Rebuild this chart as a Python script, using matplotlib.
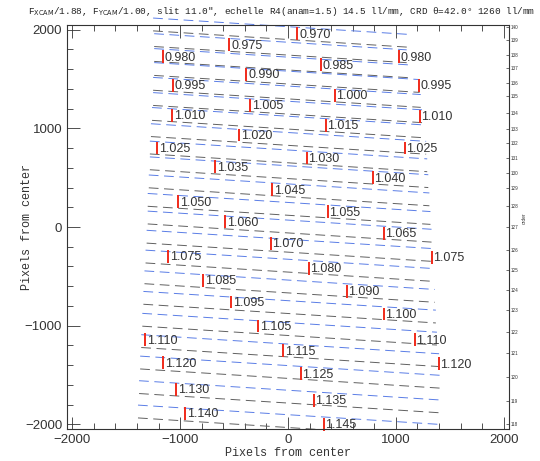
import matplotlib
matplotlib.use("Agg")
import matplotlib.pyplot as plt
from matplotlib.patches import Rectangle
from matplotlib.ticker import MultipleLocator

plt.rcParams['lines.scale_dashes'] = False
plt.rcParams['font.family'] = ['Liberation Sans', 'DejaVu Sans']
plt.rcParams['axes.unicode_minus'] = True

# ---------------- data ----------------
orders = [140, 139, 138, 137, 136, 135, 134, 133, 132, 131, 130,
          129, 128, 127, 126, 125, 124, 123, 122, 121, 120, 119]
# band centre (y, pixels) of each order at x = 0
order_y0 = [1966, 1808, 1657, 1515, 1364, 1210, 1058, 893, 716, 556, 372,
            184, 5, -190, -392, -603, -812, -1035, -1252, -1470, -1720, -1968]
# x extent of each order trace
order_xl = [-1250, -1240, -1240, -1240, -1250, -1250, -1260, -1270, -1280, -1280, -1290,
            -1300, -1300, -1310, -1320, -1330, -1340, -1350, -1360, -1370, -1380, -1390]
order_xr = [1130, 1100, 1150, 1220, 1230, 1260, 1270, 1280, 1290, 1300, 1310,
            1320, 1330, 1340, 1350, 1360, 1370, 1380, 1400, 1410, 1420, 1430]
trace_slope = -0.07          # dy/dx of the order traces
slit_half = 65               # half length of the slit image (pixels)

# wavelength marks: label, x, y (centre of red tick)
wl_labels = ['0.970', '0.975', '0.980', '0.980', '0.985', '0.990', '0.995', '0.995',
             '1.000', '1.005', '1.010', '1.010', '1.015', '1.020', '1.025', '1.025',
             '1.030', '1.035', '1.040', '1.045', '1.050', '1.055', '1.060', '1.065',
             '1.070', '1.075', '1.075', '1.080', '1.085', '1.090', '1.095', '1.100',
             '1.105', '1.110', '1.110', '1.115', '1.120', '1.120', '1.125', '1.130',
             '1.135', '1.140', '1.145']
wl_x = [88, -543, -1155, 1025, 302, -385, -1063, 1211,
        432, -348, -1072, 1220, 348, -450, -1211, 1081,
        172, -673, 784, -144, -1016, 367, -580, 886,
        -162, -1109, 1332, 190, -784, 543, -524, 886,
        -274, -1323, 1174, -42, -1155, 1397, 116, -1035,
        237, -951, 330]
wl_y = [1960, 1849, 1728, 1728, 1647, 1547, 1436, 1436,
        1335, 1234, 1134, 1123, 1033, 932, 801, 801,
        700, 610, 499, 378, 257, 156, 55, -65,
        -166, -297, -307, -418, -539, -650, -761, -882,
        -1003, -1144, -1144, -1254, -1375, -1385, -1486, -1647,
        -1758, -1889, -2000]

# right-hand order scale
order_axis_labels = [str(o) for o in range(140, 117, -1)]
order_axis_y = [2030, 1899, 1748, 1607, 1456, 1325, 1154, 993, 852, 700, 549,
                398, 217, -5, -237, -438, -640, -841, -1063, -1274, -1516, -1768, -1999]

title = ('F$_{\\rm XCAM}$/1.88, F$_{\\rm YCAM}$/1.00, slit 11.0", echelle R4(anam=1.5) '
         '14.5 ll/mm, CRD \u03b8=42.0\u00b0 1260 ll/mm')

# ---------------- figure ----------------
fig = plt.figure(figsize=(5.40, 4.61), dpi=100)
ax = fig.add_axes([67 / 540, 1 - 429 / 461, 442 / 540, 404 / 461])
ax.set_xlim(-2048, 2048)
ax.set_ylim(-2048, 2048)

clip = Rectangle((0, 0), 1, 1.2, transform=ax.transAxes, facecolor='none', edgecolor='none')
ax.add_patch(clip)

for y0, xl, xr in zip(order_y0, order_xl, order_xr):
    xs = [xl, xr]
    top = [y0 + slit_half + trace_slope * xl, y0 + slit_half + trace_slope * xr]
    bot = [y0 - slit_half + trace_slope * xl, y0 - slit_half + trace_slope * xr]
    l1, = ax.plot(xs, top, color='#5a7de6', lw=0.7, dashes=(7, 4))
    l2, = ax.plot(xs, bot, color='#606060', lw=0.7, dashes=(7, 4))
    l1.set_clip_path(clip)
    l2.set_clip_path(clip)

for lab, x, y in zip(wl_labels, wl_x, wl_y):
    ax.plot([x, x], [y - slit_half, y + slit_half], color='#f02a1a', lw=1.4,
            solid_capstyle='butt', clip_on=False)
    ax.text(x + 15, y - 10, lab, fontsize=9, family='Liberation Sans',
            color='#333333', ha='left', va='center', clip_on=False)

ax.xaxis.set_major_locator(MultipleLocator(1000))
ax.yaxis.set_major_locator(MultipleLocator(1000))
ax.xaxis.set_minor_locator(MultipleLocator(200))
ax.yaxis.set_minor_locator(MultipleLocator(200))
ax.tick_params(which='both', direction='in', top=True, right=True,
               labelsize=9.5, labelcolor='#333333', color='#333333')
ax.tick_params(which='major', length=9, width=0.6)
ax.tick_params(which='minor', length=4.5, width=0.6)
for s in ax.spines.values():
    s.set_linewidth(0.8)
    s.set_color('#333333')

ax.set_xlabel('Pixels from center', family='Liberation Mono', fontsize=8.5,
              color='#333333')
ax.set_ylabel('Pixels from center', family='Liberation Mono', fontsize=8.5,
              color='#333333')
ax.xaxis.set_label_coords(0.5, -0.045)
ax.yaxis.set_label_coords(-0.078, 0.5)
fig.text(282 / 540, 1 - 12 / 461, title, family='Liberation Mono', fontsize=6.75,
         color='#222222', ha='center', va='center')

twin = ax.twinx()
twin.set_ylim(ax.get_ylim())
twin.set_yticks(order_axis_y)
twin.set_yticklabels(order_axis_labels)
twin.tick_params(axis='y', direction='in', length=2, width=0.5, labelsize=3.3,
                 pad=1, labelcolor='#333333', color='#333333')
for s in twin.spines.values():
    s.set_visible(False)
fig.text(524 / 540, 1 - 218 / 461, 'order', rotation=90, fontsize=3.5,
         color='#333333', ha='center', va='center')

fig.savefig('out.png', dpi=100)
